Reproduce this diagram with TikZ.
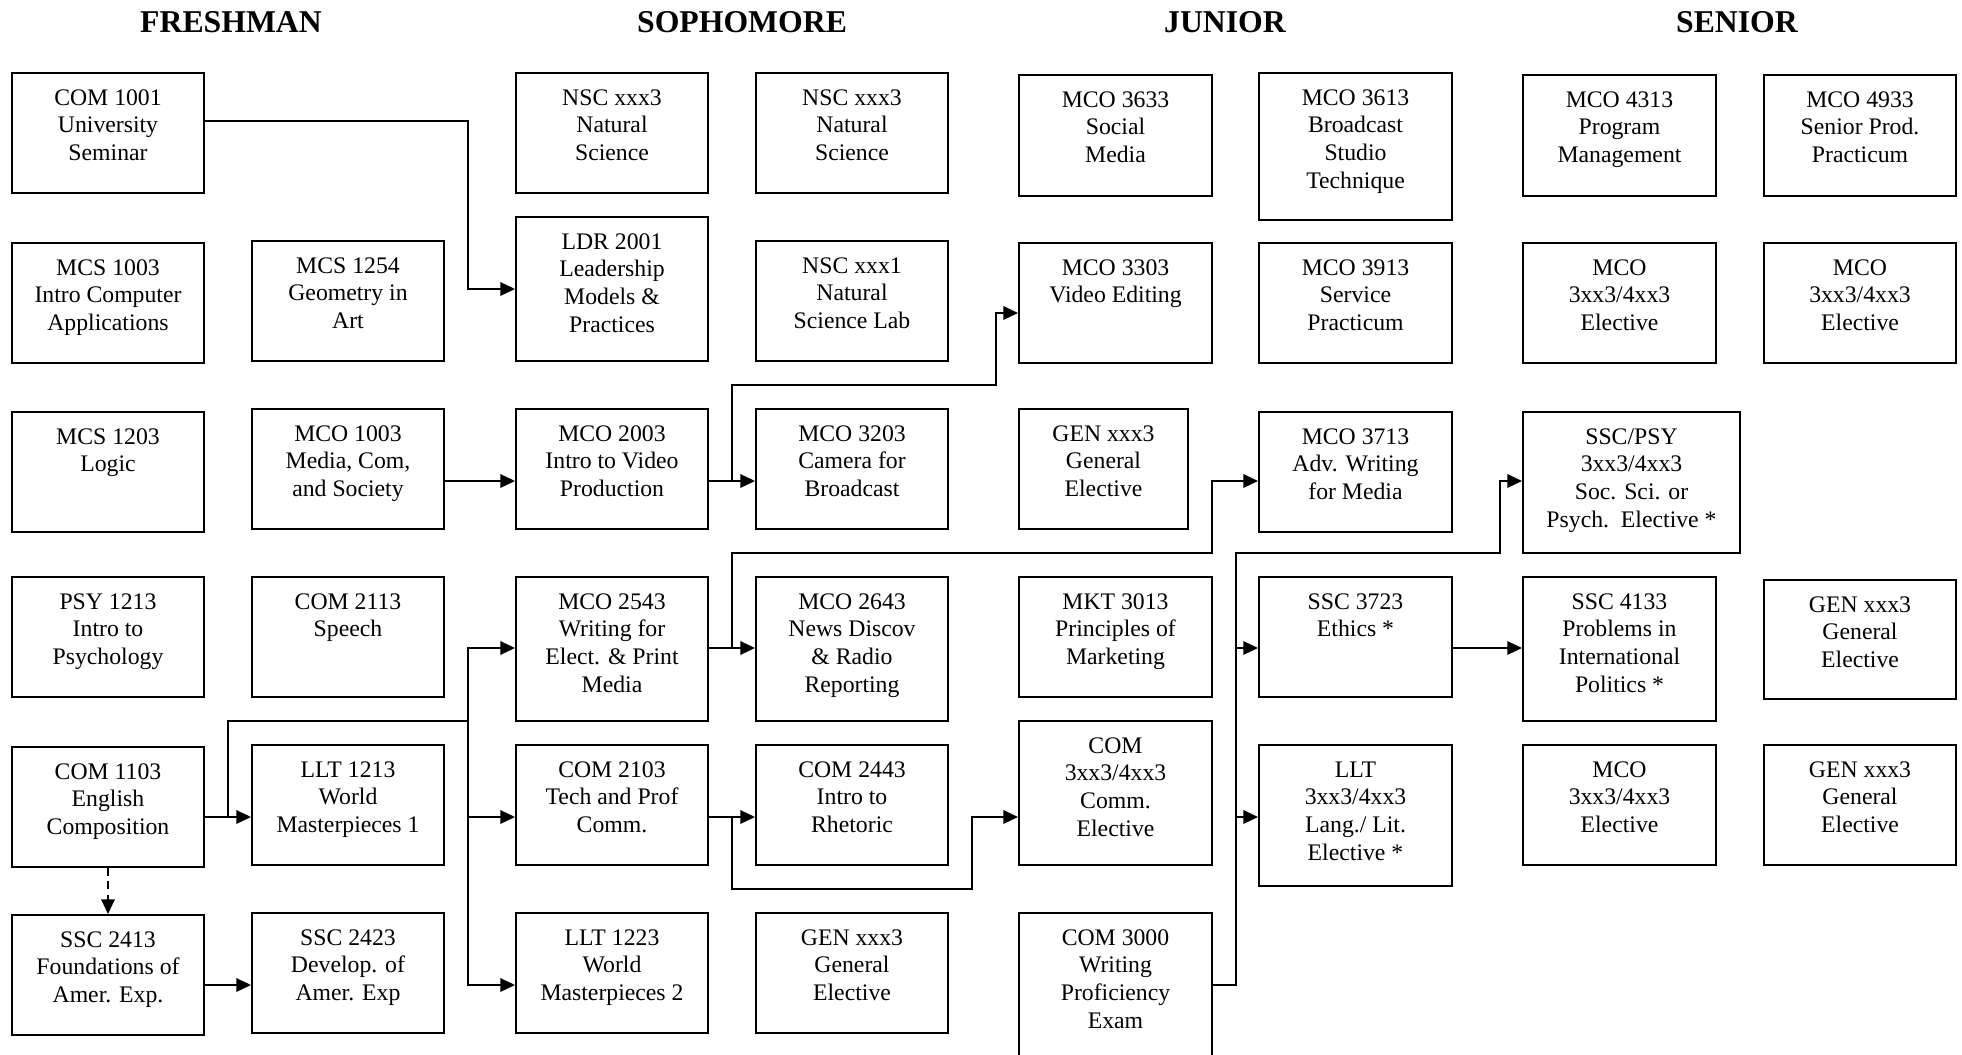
\documentclass[tikz,border=0pt]{standalone}
\usepackage{fontspec}
\setmainfont{Liberation Serif}
\usetikzlibrary{arrows.meta,calc}
\tikzset{
  box/.style={draw, line width=1.4pt, inner sep=0pt, rectangle},
  txt/.style={inner sep=0pt, align=center, font=\fontsize{17.8}{20.85}\selectfont},
  conn/.style={line width=1.4pt},
  arr/.style={conn, -{Triangle[length=11pt,width=10pt]}},
  darr/.style={arr, dash pattern=on 6pt off 4pt},
  yeartitle/.style={inner sep=0pt, anchor=base, font=\bfseries\fontsize{23.8}{28}\selectfont},
}
\newcommand\course[6]{%
  \node[box, minimum width={(#4-#2)*0.75pt}, minimum height={(#5-#3)*0.75pt}] (#1) at ({(#2+#4)/2},{(#3+#5)/2}) {};
  \node[txt, anchor=north] (#1t) at (#1.north) {\rule{0pt}{24.6pt}#6};
}
\begin{document}
\begin{tikzpicture}[x=0.75pt, y=-0.75pt]
\useasboundingbox (0,0) rectangle (1962,1055);
% titles
\node[yeartitle] (tfr) at (231,33) {FRESHMAN};
\node[yeartitle] (tso) at (742,33) {SOPHOMORE};
\node[yeartitle] (tju) at (1225,33) {JUNIOR};
\node[yeartitle] (tse) at (1737,33) {SENIOR};
% freshman
\course{c1001}{12}{73}{204}{193}{COM 1001\\University\\Seminar}
\course{mcs1003}{12}{243}{204}{363}{MCS 1003\\Intro Computer\\Applications}
\course{mcs1203}{12}{412}{204}{532}{MCS 1203\\Logic}
\course{psy1213}{12}{577}{204}{697}{PSY 1213\\Intro to\\Psychology}
\course{c1103}{12}{747}{204}{867}{COM 1103\\English\\Composition}
\course{ssc2413}{12}{915}{204}{1035}{SSC 2413\\Foundations of\\Amer. Exp.}
\course{mcs1254}{252}{241}{444}{361}{MCS 1254\\Geometry in\\Art}
\course{mco1003}{252}{409}{444}{529}{MCO 1003\\Media, Com,\\and Society}
\course{c2113}{252}{577}{444}{697}{COM 2113\\Speech}
\course{llt1213}{252}{745}{444}{865}{LLT 1213\\World\\Masterpieces 1}
\course{ssc2423}{252}{913}{444}{1033}{SSC 2423\\Develop. of\\Amer. Exp}
% sophomore
\course{nscA}{516}{73}{708}{193}{NSC xxx3\\Natural\\Science}
\course{ldr2001}{516}{217}{708}{361}{LDR 2001\\Leadership\\Models \&\\Practices}
\course{mco2003}{516}{409}{708}{529}{MCO 2003\\Intro to Video\\Production}
\course{mco2543}{516}{577}{708}{721}{MCO 2543\\Writing for\\Elect. \& Print\\Media}
\course{c2103}{516}{745}{708}{865}{COM 2103\\Tech and Prof\\Comm.}
\course{llt1223}{516}{913}{708}{1033}{LLT 1223\\World\\Masterpieces 2}
\course{nscB}{756}{73}{948}{193}{NSC xxx3\\Natural\\Science}
\course{nscC}{756}{241}{948}{361}{NSC xxx1\\Natural\\Science Lab}
\course{mco3203}{756}{409}{948}{529}{MCO 3203\\Camera for\\Broadcast}
\course{mco2643}{756}{577}{948}{721}{MCO 2643\\News Discov\\\& Radio\\Reporting}
\course{c2443}{756}{745}{948}{865}{COM 2443\\Intro to\\Rhetoric}
\course{genA}{756}{913}{948}{1033}{GEN xxx3\\General\\Elective}
% junior
\course{mco3633}{1019}{75}{1212}{196}{MCO 3633\\Social\\Media}
\course{mco3303}{1019}{243}{1212}{363}{MCO 3303\\Video Editing}
\course{genB}{1019}{409}{1188}{529}{GEN xxx3\\General\\Elective}
\course{mkt3013}{1019}{577}{1212}{697}{MKT 3013\\Principles of\\Marketing}
\course{comel}{1019}{721}{1212}{865}{COM\\3xx3/4xx3\\Comm.\\Elective}
\course{c3000}{1019}{913}{1212}{1062}{COM 3000\\Writing\\Proficiency\\Exam}
\course{mco3613}{1259}{73}{1452}{220}{MCO 3613\\Broadcast\\Studio\\Technique}
\course{mco3913}{1259}{243}{1452}{363}{MCO 3913\\Service\\Practicum}
\course{mco3713}{1259}{412}{1452}{532}{MCO 3713\\Adv. Writing\\for Media}
\course{ssc3723}{1259}{577}{1452}{697}{SSC 3723\\Ethics *}
\course{lltel}{1259}{745}{1452}{886}{LLT\\3xx3/4xx3\\Lang./ Lit.\\Elective *}
% senior
\course{mco4313}{1523}{75}{1716}{196}{MCO 4313\\Program\\Management}
\course{mcoelA}{1523}{243}{1716}{363}{MCO\\3xx3/4xx3\\Elective}
\course{sscpsy}{1523}{412}{1740}{553}{SSC/PSY\\3xx3/4xx3\\Soc. Sci. or\\Psych.\ \ Elective *}
\course{ssc4133}{1523}{577}{1716}{721}{SSC 4133\\Problems in\\International\\Politics *}
\course{mcoelC}{1523}{745}{1716}{865}{MCO\\3xx3/4xx3\\Elective}
\course{mco4933}{1764}{75}{1956}{196}{MCO 4933\\Senior Prod.\\Practicum}
\course{mcoelB}{1764}{243}{1956}{363}{MCO\\3xx3/4xx3\\Elective}
\course{genC}{1764}{580}{1956}{699}{GEN xxx3\\General\\Elective}
\course{genD}{1764}{745}{1956}{865}{GEN xxx3\\General\\Elective}
% junction coordinates
\coordinate (j1) at (468,289);
\coordinate (j2) at (732,481);
\coordinate (j3) at (468,721);
\coordinate (j4) at (228,817);
\coordinate (j5) at (1236,553);
\coordinate (j6) at (1500,553);
\coordinate (j7) at (732,648);
\coordinate (j8) at (732,817);
% connectors
\draw[arr] (c1001.east |- 0,121) -| (j1) -- (ldr2001.west);
\draw[arr] (mco1003.east |- 0,481) -- (mco2003.west |- 0,481);
\draw[arr] (mco2003.east |- 0,481) -- (mco3203.west |- 0,481);
\draw[arr] (j2) |- (996,385) |- (mco3303.west |- 0,313);
\draw[arr] (c1103.east |- 0,817) -- (llt1213.west |- 0,817);
\draw[conn] (j4) |- (j3);
\draw[arr] (j3) |- (mco2543.west |- 0,648);
\draw[arr] (j3) |- (c2103.west |- 0,817);
\draw[arr] (j3) |- (llt1223.west |- 0,985);
\draw[arr] (ssc2413.east |- 0,985) -- (ssc2423.west |- 0,985);
\draw[darr] (c1103.south) -- (ssc2413.north);
\draw[arr] (mco2543.east |- 0,648) -- (mco2643.west |- 0,648);
\draw[arr] (j7) |- (1212,553) |- (mco3713.west |- 0,481);
\draw[arr] (c2103.east |- 0,817) -- (c2443.west |- 0,817);
\draw[arr] (j8) |- (972,889) |- (comel.west |- 0,817);
\draw[arr] (c3000.east |- 0,985) -| (j5) -- (j6) |- (sscpsy.west |- 0,481);
\draw[arr] (j5 |- 0,648) -- (ssc3723.west |- 0,648);
\draw[arr] (j5 |- 0,817) -- (lltel.west |- 0,817);
\draw[arr] (ssc3723.east |- 0,648) -- (ssc4133.west |- 0,648);
\end{tikzpicture}
\end{document}
